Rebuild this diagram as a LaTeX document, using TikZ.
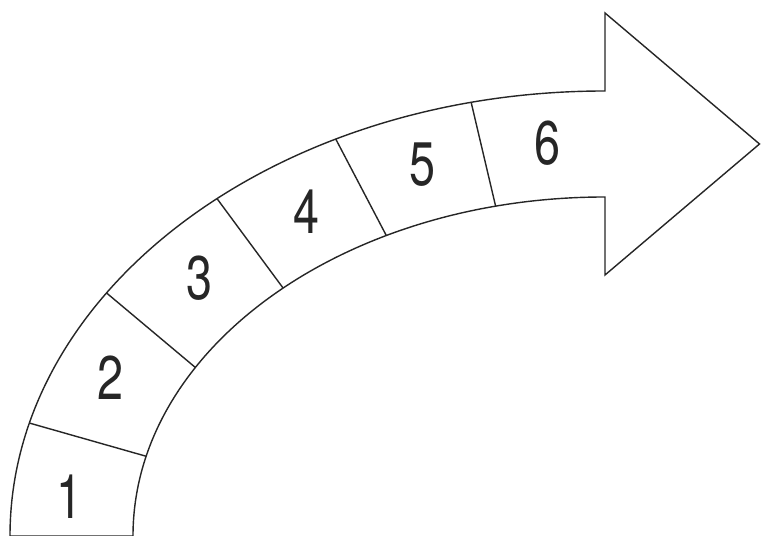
\documentclass[tikz,border=0pt]{standalone}
\usepackage{fontspec}
\setsansfont{TeX Gyre Heros}
\newfontfamily\stepfont[FakeStretch=0.76]{TeX Gyre Heros}
\definecolor{arwink}{HTML}{262626}
\definecolor{arwfill}{HTML}{FFFFFF}
\usetikzlibrary{calc}

\begin{document}
\begin{tikzpicture}[
    every node/.style={font=\sffamily},
    band/.style={draw=arwink, fill=arwfill, line width=0.8pt, line join=miter},
    divider/.style={draw=arwink, line width=0.8pt},
    stepnum/.style={font=\stepfont\fontsize{35}{40}\selectfont, text=arwink, inner sep=0pt},
  ]
  \useasboundingbox (0,0) rectangle (15.22,10.72);

  \coordinate (O) at (12.1,0);

  % curved shaft with the head
  \draw[band] (O) ++(180:11.9 and 8.9)
    arc[start angle=180, end angle=90, x radius=11.9, y radius=8.9]
    -- (12.1,10.46) coordinate (HT) -- (15.19,7.84) coordinate (TIP)
    -- (12.1,5.22) coordinate (HB) -- (12.1,6.78)
    arc[start angle=90, end angle=180, x radius=9.44, y radius=6.78] -- cycle;

  \path (O) ++(165.3:11.9 and 8.9) coordinate (out1) (O) ++(166.4:9.44 and 6.78) coordinate (in1);
  \path (O) ++(146.9:11.9 and 8.9) coordinate (out2) (O) ++(150.2:9.44 and 6.78) coordinate (in2);
  \path (O) ++(130.7:11.9 and 8.9) coordinate (out3) (O) ++(133.0:9.44 and 6.78) coordinate (in3);
  \path (O) ++(116.9:11.9 and 8.9) coordinate (out4) (O) ++(117.6:9.44 and 6.78) coordinate (in4);
  \path (O) ++(103.0:11.9 and 8.9) coordinate (out5) (O) ++(103.4:9.44 and 6.78) coordinate (in5);

  \draw[divider] (out1) -- (in1);
  \draw[divider] (out2) -- (in2);
  \draw[divider] (out3) -- (in3);
  \draw[divider] (out4) -- (in4);
  \draw[divider] (out5) -- (in5);

  \node[stepnum] (S1) at (1.38,0.78) {1};
  \node[stepnum] (S2) at (2.20,3.16) {2};
  \node[stepnum] (S3) at (3.98,5.16) {3};
  \node[stepnum] (S4) at (6.12,6.48) {4};
  \node[stepnum] (S5) at (8.45,7.42) {5};
  \node[stepnum] (S6) at (10.94,7.86) {6};

\end{tikzpicture}
\end{document}
